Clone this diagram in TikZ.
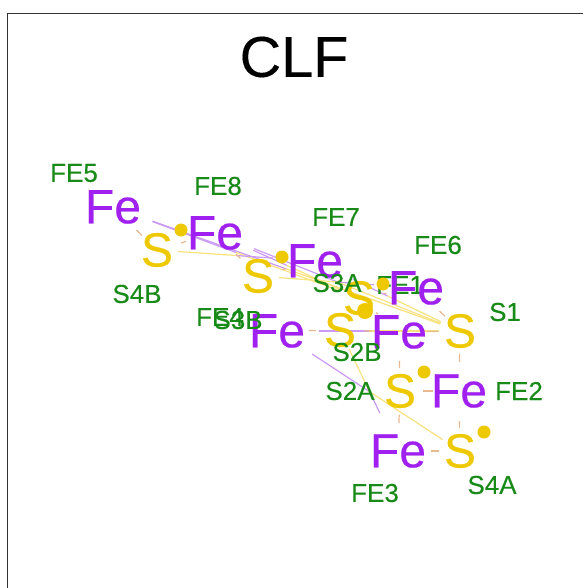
\documentclass[tikz,border=0pt]{standalone}
\usepackage{fontspec}
\setmainfont{Liberation Sans}
\newfontfamily\heavyfont[FakeBold=0.4]{Liberation Sans}
\newfontfamily\medfont[FakeBold=0.15]{Liberation Sans}
\usetikzlibrary{calc}
\definecolor{atomfecol}{HTML}{A020F0}
\definecolor{atomscol}{HTML}{EEC900}
\definecolor{labcol}{HTML}{178A17}
\definecolor{bondfe}{HTML}{CB9AF4}
\definecolor{bonds}{HTML}{F8E27E}
\definecolor{bondmix}{HTML}{E8B890}
\tikzset{
  atomfe/.style={inner sep=0pt,text=atomfecol,font=\heavyfont\fontsize{48}{52}\selectfont},
  atoms/.style={inner sep=0pt,text=atomscol,font=\heavyfont\fontsize{48}{52}\selectfont},
  lab/.style={inner sep=0pt,text=labcol,font=\medfont\fontsize{26}{30}\selectfont},
  ttl/.style={inner sep=0pt,text=black,font=\medfont\fontsize{57.5}{60}\selectfont},
  dotmark/.style={circle,fill=atomscol,draw=none,inner sep=0pt,minimum size=13pt},
  halffe/.style={draw=bondfe,line width=1.2pt},
  halfs/.style={draw=bonds,line width=1.2pt},
  shortb/.style={draw=bondmix,line width=1.2pt}
}
\newcommand{\longbond}[2]{%
  \draw[halffe] ($(#1)!42pt!(#2)$) -- ($(#1)!.5!(#2)$);
  \draw[halfs] ($(#1)!.5!(#2)$) -- ($(#2)!21pt!(#1)$);}
\newcommand{\shortbond}[4]{%
  \draw[shortb] ($(#1)!#3!(#2)$) -- ($(#2)!#4!(#1)$);}
\begin{document}
\begin{tikzpicture}[x=1pt,y=-1pt]
\useasboundingbox (0,0) rectangle (583,588);
\fill[white] (0,0) rectangle (583,588);
\draw[line width=1pt,draw=black!80] (7.5,588) -- (7.5,13.5) -- (583,13.5);
\path
  (113,207) coordinate (fe5)
  (215,233) coordinate (fe8)
  (315,261) coordinate (fe7)
  (416,288) coordinate (fe6)
  (399,332) coordinate (fe1)
  (277,331) coordinate (fe4)
  (459,391) coordinate (fe2)
  (398,451) coordinate (fe3)
  (157,250) coordinate (s4b)
  (258,276) coordinate (s3b)
  (359,298) coordinate (s3a)
  (460,331) coordinate (s1)
  (340,330) coordinate (s2b)
  (400,391) coordinate (s2a)
  (460,451) coordinate (s4a);
% long bonds
\longbond{fe5}{s1}
\longbond{fe5}{s3a}
\longbond{fe8}{s1}
\longbond{fe8}{s3a}
\longbond{fe7}{s1}
\longbond{fe7}{s4b}
\longbond{fe6}{s3b}
\longbond{fe4}{s1}
\longbond{fe4}{s4a}
\longbond{fe3}{s2b}
% short bonds
\shortbond{fe5}{s4b}{33pt}{21pt}
\shortbond{fe8}{s4b}{30pt}{25pt}
\shortbond{fe8}{s3b}{30pt}{25pt}
\shortbond{fe7}{s3b}{30pt}{25pt}
\shortbond{fe7}{s3a}{30pt}{25pt}
\shortbond{fe6}{s3a}{30pt}{25pt}
\shortbond{fe6}{s1}{33pt}{21pt}
\shortbond{fe1}{s3a}{30pt}{25pt}
\shortbond{fe1}{s1}{28pt}{22pt}
\shortbond{fe1}{s2b}{27pt}{24pt}
\shortbond{fe4}{s2b}{32pt}{24pt}
\shortbond{fe1}{s2a}{29pt}{23pt}
\shortbond{fe2}{s1}{29pt}{23pt}
\shortbond{fe2}{s2a}{26pt}{23pt}
\shortbond{fe2}{s4a}{30pt}{23pt}
\shortbond{fe3}{s2a}{28pt}{24pt}
\shortbond{fe3}{s4a}{33pt}{21pt}
% atoms
\node[atomfe] (afe5) at (fe5) {Fe};
\node[atomfe] (afe8) at (fe8) {Fe};
\node[atomfe] (afe7) at (fe7) {Fe};
\node[atomfe] (afe1) at (fe1) {Fe};
\node[atomfe] (afe4) at (fe4) {Fe};
\node[atomfe] (afe2) at (fe2) {Fe};
\node[atomfe] (afe3) at (fe3) {Fe};
\node[atoms] (as4b) at (s4b) {S};
\node[atoms] (as3b) at (s3b) {S};
\node[atoms] (as3a) at (s3a) {S};
\node[atoms] (as1) at (s1) {S};
\node[atoms] (as2b) at (s2b) {S};
\node[atoms] (as2a) at (s2a) {S};
\node[atoms] (as4a) at (s4a) {S};
% FE1 label lies beneath its neighbouring atom and dot
\node[lab] (lfe1) at (400,285) {FE1};
\node[atomfe] (afe6) at (fe6) {Fe};
% radical dots
\node[dotmark] (d1) at (181,230) {};
\node[dotmark] (d2) at (282,257) {};
\node[dotmark] (d3) at (383,284) {};
\node[dotmark,minimum size=16pt] (d4) at (365,311) {};
\node[dotmark] (d5) at (424,372) {};
\node[dotmark] (d6) at (484,432) {};
% labels
\node[lab] (lfe5) at (74,173) {FE5};
\node[lab] (lfe8) at (218,186) {FE8};
\node[lab] (lfe7) at (336,217) {FE7};
\node[lab] (lfe6) at (438,245) {FE6};
\node[lab] (lfe4) at (220,317) {FE4};
\node[lab] (ls3b) at (238,320) {S3B};
\node[lab] (ls3a) at (337,283) {S3A};
\node[lab] (ls1) at (505,312) {S1};
\node[lab] (ls2b) at (357,352) {S2B};
\node[lab] (ls2a) at (350,391) {S2A};
\node[lab] (lfe2) at (519,391) {FE2};
\node[lab] (lfe3) at (375,493) {FE3};
\node[lab] (ls4a) at (492,485) {S4A};
\node[lab] (ls4b) at (137,294) {S4B};
\node[ttl] (title) at (294,57) {CLF};
\end{tikzpicture}
\end{document}
